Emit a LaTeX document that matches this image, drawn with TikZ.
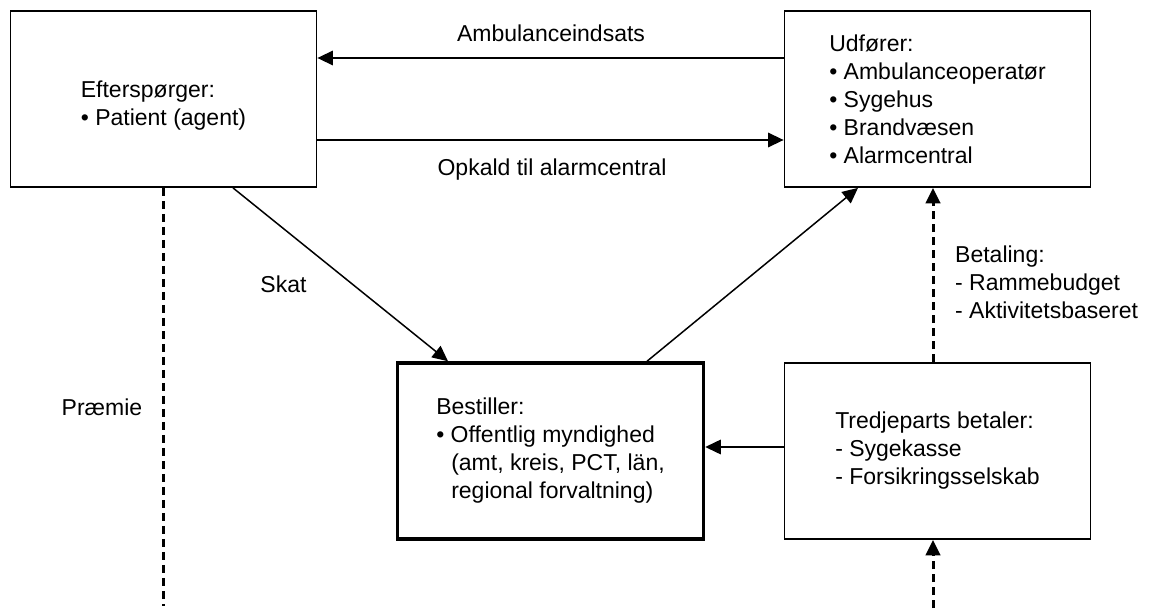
\documentclass[tikz,border=0pt]{standalone}
\usepackage{fontspec}
\setmainfont{Liberation Sans}
\usetikzlibrary{arrows.meta}
\begin{document}
\begin{tikzpicture}[x=1pt,y=-1pt,
  font=\fontsize{23}{28}\selectfont,
  box/.style={draw, line width=1.8pt, minimum width=306pt, minimum height=176pt, inner sep=0pt, align=left},
  thickbox/.style={box, line width=3.5pt},
  arr/.style={line width=1.5pt, -{Triangle[length=15.5pt,width=14.5pt]}},
  dsh/.style={line width=3pt, dash pattern=on 8pt off 5pt},
  darr/.style={dsh, -{Triangle[length=15.5pt,width=14.5pt]}},
  lbl/.style={inner sep=0pt, anchor=base}]
\useasboundingbox (0,0) rectangle (1149,610);

\node[box] (A) at (163.5,99) {\rule{0pt}{29pt}Efterspørger:\\• Patient (agent)};
\node[box] (U) at (937.5,99) {Udfører:\\• Ambulanceoperatør\\• Sygehus\\• Brandvæsen\\• Alarmcentral};
\node[thickbox] (B) at (550.5,451) {Bestiller:\\• Offentlig myndighed\\\hspace*{15pt}(amt, kreis, PCT, län,\\\hspace*{15pt}regional forvaltning)};
\node[box] (T) at (937.5,451) {Tredjeparts betaler:\\- Sygekasse\\- Forsikringsselskab};

\coordinate (tin) at (933,608);
\coordinate (pend) at (163.5,606);

% top arrows
\draw[arr] ([yshift=41pt]U.west) -- ([yshift=41pt]U.west -| A.east);
\draw[arr] ([yshift=-41pt]A.east) -- ([yshift=-41pt]A.east -| U.west);
\node[lbl] (l1) at (551,42) {Ambulanceindsats};
\node[lbl] (l2) at (552,175) {Opkald til alarmcentral};

% Skat
\draw[arr] ([xshift=69.5pt]A.south) -- ([xshift=-102.5pt]B.north);
\node[lbl] (l3) at (283.5,292) {Skat};

% B to U
\draw[arr] ([xshift=96.5pt]B.north) -- ([xshift=-79.5pt]U.south);

% T to B
\draw[arr] ([yshift=4pt]T.west) -- ([yshift=4pt]T.west -| B.east);

% Betaling dashed
\draw[darr] ([xshift=-4.5pt]T.north) -- ([xshift=-4.5pt]U.south);
\node[inner sep=0pt, anchor=north west, align=left] (l4) at (955,246) {Betaling:\\- Rammebudget\\- Aktivitetsbaseret};

% bottom dashed into T
\draw[darr] (tin) -- ([xshift=-4.5pt]T.south);

% Praemie
\draw[dsh] (A.south) -- (pend);
\node[lbl] (l5) at (102,415) {Præmie};
\end{tikzpicture}
\end{document}
